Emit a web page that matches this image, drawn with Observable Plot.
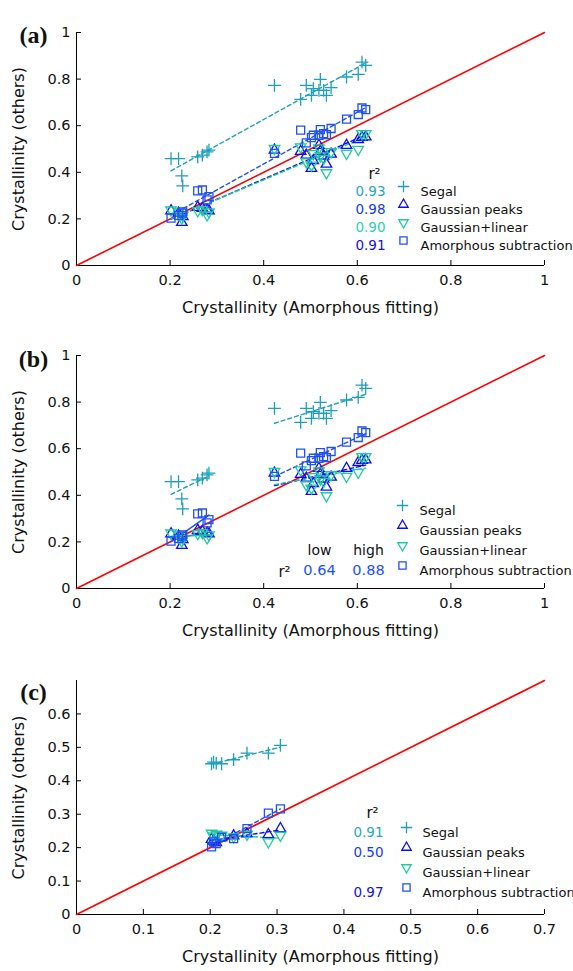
<!DOCTYPE html>
<html><head><meta charset="utf-8">
<script src="https://cdn.jsdelivr.net/npm/d3@7"></script>
<script src="https://cdn.jsdelivr.net/npm/@observablehq/plot@0.6"></script>
<style>
body{margin:0;background:#fff;}
#chart svg{display:block;}
</style></head><body><div id="chart"></div>
<script>
// ---- data ----
const seriesNames = ["Segal", "Gaussian peaks", "Gaussian+linear", "Amorphous subtraction"];

// panels (a) and (b): crystallinity from amorphous fitting (x) and the four other methods (y)
const xAB = [0.202, 0.218, 0.225, 0.227, 0.259, 0.269, 0.279, 0.283, 0.423, 0.479, 0.491,
             0.502, 0.506, 0.518, 0.521, 0.528, 0.534, 0.544, 0.577, 0.602, 0.610, 0.618];
const segalAB = [0.459, 0.459, 0.385, 0.342, 0.466, 0.474, 0.488, 0.495, 0.773, 0.713, 0.773,
                 0.730, 0.759, 0.752, 0.799, 0.752, 0.730, 0.763, 0.809, 0.820, 0.873, 0.859];
const gpeaksAB = [0.235, 0.225, 0.185, 0.210, 0.250, 0.245, 0.238, 0.235, 0.495, 0.490, 0.474,
                  0.417, 0.450, 0.516, 0.490, 0.470, 0.435, 0.478, 0.516, 0.541, 0.550, 0.552];
const glinAB = [0.238, 0.230, 0.203, 0.215, 0.235, 0.240, 0.217, 0.230, 0.502, 0.509, 0.445,
                0.431, 0.480, 0.505, 0.470, 0.460, 0.398, 0.488, 0.481, 0.498, 0.566, 0.566];
const amorphAB = [0.203, 0.215, 0.225, 0.230, 0.320, 0.324, 0.282, 0.296, 0.481, 0.581, 0.526,
                  0.549, 0.559, 0.559, 0.583, 0.566, 0.562, 0.588, 0.628, 0.648, 0.676, 0.669];

// panel (c)
const xC = [0.202, 0.205, 0.209, 0.217, 0.235, 0.255, 0.287, 0.305];
const segalC = [0.451, 0.456, 0.453, 0.451, 0.463, 0.483, 0.483, 0.506];
const gpeaksC = [0.225, 0.220, 0.215, 0.230, 0.235, 0.241, 0.239, 0.257];
const glinC = [0.243, 0.235, 0.240, 0.237, 0.232, 0.240, 0.217, 0.237];
const amorphC = [0.202, 0.217, 0.212, 0.231, 0.227, 0.257, 0.303, 0.316];

// r² labels
const r2A = ["0.93", "0.98", "0.90", "0.91"];
const r2BHeads = ["low", "high"];
const r2BVals = ["0.64", "0.88"];
const r2C = ["0.91", "0.50", "", "0.97"];

// ticks
const ticksAB = [0, 0.2, 0.4, 0.6, 0.8, 1];
const ticksCx = [0, 0.1, 0.2, 0.3, 0.4, 0.5, 0.6, 0.7];
const ticksCy = [0, 0.1, 0.2, 0.3, 0.4, 0.5, 0.6];

const panelLabels = ["(a)", "(b)", "(c)"];
const xTitle = "Crystallinity (Amorphous fitting)";
const yTitle = "Crystallinity (others)";

// ---- styles ----
const colors = ["#1d9fbd", "#0a0aff", "#1dcc9c", "#1e50f5"];
const r2Colors = ["#25a8c2", "#1438ff", "#28d4a6", "#1010e8"];
const triDown = {
  draw(ctx, size) {
    const a = Math.sqrt(size / (3 * Math.sqrt(3)));
    ctx.moveTo(0, 2 * a);
    ctx.lineTo(Math.sqrt(3) * a, -a);
    ctx.lineTo(-Math.sqrt(3) * a, -a);
    ctx.closePath();
  }
};
const symbols = ["plus", "triangle", triDown, "square"];
const radii = [4.2, 3.9, 3.9, 4.5];

function panel(cfg) {
  const W = 573, mL = 76, mR = 29;
  const {height, marginTop, marginBottom, xmax, ymax, xticks, yticks, xs, ys} = cfg;
  const plotH = height - marginTop - marginBottom;
  const plotW = W - mL - mR;
  const rows = [];
  seriesNames.forEach((s, k) => xs.forEach((x, i) => rows.push({x, y: ys[k][i], k, series: s, grp: x < 0.35 ? "low" : "high"})));
  const col = d => colors[d.k];

  const marks = [];
  // axes lines
  marks.push(Plot.ruleX([0], {stroke: "black", strokeWidth: 1}));
  marks.push(Plot.ruleY([0], {stroke: "black", strokeWidth: 1}));
  // inward ticks
  marks.push(Plot.tickX(xticks, {x: d => d, insetTop: plotH - 5, stroke: "black"}));
  marks.push(Plot.tickY(yticks, {y: d => d, insetRight: plotW - 5, stroke: "black"}));
  marks.push(Plot.axisX(xticks, {tickSize: 0, tickPadding: 9, tickFormat: d => String(d), label: null, fontSize: 14.5, fill: "#111"}));
  marks.push(Plot.axisY(yticks, {tickSize: 0, tickPadding: 6, tickFormat: d => String(d), label: null, fontSize: 14.5, fill: "#111"}));
  // identity line
  marks.push(Plot.line([0, xmax], {x: d => d, y: d => d, stroke: "#ff0000", strokeWidth: 1.6}));

  // regression fits
  if (cfg.split) {
    marks.push(Plot.linearRegressionY(rows.filter(d => d.grp === "high" || d.k === 0), {x: "x", y: "y", z: d => d.series + d.grp, stroke: col, strokeWidth: 1.4, strokeDasharray: "4,3", ci: 0}));
    marks.push(Plot.linearRegressionY(rows.filter(d => d.grp === "low" && d.k !== 0), {x: "x", y: "y", z: d => d.series + d.grp, stroke: col, strokeWidth: 1.4, ci: 0}));
  } else {
    marks.push(Plot.linearRegressionY(rows, {x: "x", y: "y", z: "series", stroke: col, strokeWidth: 1.4, strokeDasharray: "4,3", ci: 0}));
  }
  // points
  seriesNames.forEach((s, k) => {
    marks.push(Plot.dot(rows.filter(d => d.k === k), {x: "x", y: "y", symbol: symbols[k], r: radii[k], stroke: colors[k], fill: "none", strokeWidth: 1.3}));
  });

  // legend
  const L = cfg.legend;
  seriesNames.forEach((s, k) => {
    const dy = L.dy0 + k * L.sp;
    marks.push(Plot.dot([s], {frameAnchor: "top-left", dx: L.symX, dy, symbol: symbols[k], r: radii[k] * 0.9, stroke: colors[k], fill: "none", strokeWidth: 1.3}));
    marks.push(Plot.text([s], {text: d => d, frameAnchor: "top-left", dx: L.textX, dy, textAnchor: "start", fontSize: 13, fill: "#111"}));
    if (L.r2 && L.r2[k]) {
      marks.push(Plot.text([L.r2[k]], {text: d => d, frameAnchor: "top-left", dx: L.numX, dy, textAnchor: "middle", fontSize: 13.5, fill: r2Colors[k]}));
    }
  });
  if (L.r2LabelX != null) {
    marks.push(Plot.text(["r²"], {text: d => d, frameAnchor: "top-left", dx: L.r2LabelX, dy: L.r2LabelY, textAnchor: "middle", fontSize: 15, fill: "#111"}));
  }
  if (cfg.extra) cfg.extra.forEach(m => marks.push(m));

  // titles
  marks.push(Plot.text([xTitle], {text: d => d, frameAnchor: "bottom", dy: 47, textAnchor: "middle", fontSize: 16, fill: "#111"}));
  marks.push(Plot.text([yTitle], {text: d => d, frameAnchor: "left", dx: -58, rotate: -90, textAnchor: "middle", fontSize: 16, fill: "#111"}));
  marks.push(Plot.text([cfg.label], {text: d => d, frameAnchor: "top-left", dx: -43, dy: cfg.labelDy, textAnchor: "middle", fontSize: 24, fontWeight: "bold", fontFamily: "Liberation Serif, DejaVu Serif, serif", fill: "#111"}));

  return Plot.plot({
    width: W, height, marginLeft: mL, marginRight: mR, marginTop, marginBottom,
    x: {domain: [0, xmax], axis: null},
    y: {domain: [0, ymax], axis: null},
    style: {fontFamily: "DejaVu Sans, sans-serif", background: "white", overflow: "visible"},
    marks
  });
}

const chart = document.getElementById("chart");
chart.append(panel({
  label: panelLabels[0], labelDy: -7,
  height: 325, marginTop: 32, marginBottom: 60, xmax: 1, ymax: 1, xticks: ticksAB, yticks: ticksAB,
  xs: xAB, ys: [segalAB, gpeaksAB, glinAB, amorphAB],
  legend: {symX: 327, textX: 344, numX: 294, dy0: 154, sp: 18, r2: r2A, r2LabelX: 298, r2LabelY: 136}
}));
chart.append(panel({
  label: panelLabels[1], labelDy: -6, split: true,
  height: 323, marginTop: 30, marginBottom: 60, xmax: 1, ymax: 1, xticks: ticksAB, yticks: ticksAB,
  xs: xAB, ys: [segalAB, gpeaksAB, glinAB, amorphAB],
  legend: {symX: 326, textX: 343, dy0: 150, sp: 20, r2: null, r2LabelX: 208, r2LabelY: 211},
  extra: [].concat(
    r2BHeads.map((h, i) => Plot.text([h], {text: d => d, frameAnchor: "top-left", dx: 243 + i * 49, dy: 190, textAnchor: "middle", fontSize: 14, fill: "#111"})),
    r2BVals.map((v, i) => Plot.text([v], {text: d => d, frameAnchor: "top-left", dx: 243 + i * 49, dy: 209, textAnchor: "middle", fontSize: 14.5, fill: "#1a4fff"}))
  )
}));
chart.append(panel({
  label: panelLabels[2], labelDy: 2,
  height: 323, marginTop: 32, marginBottom: 57, xmax: 0.7, ymax: 0.7, xticks: ticksCx, yticks: ticksCy,
  xs: xC, ys: [segalC, gpeaksC, glinC, amorphC],
  legend: {symX: 330, textX: 346, numX: 292, dy0: 147, sp: 20, r2: r2C, r2LabelX: 296, r2LabelY: 127}
}));
</script></body></html>
